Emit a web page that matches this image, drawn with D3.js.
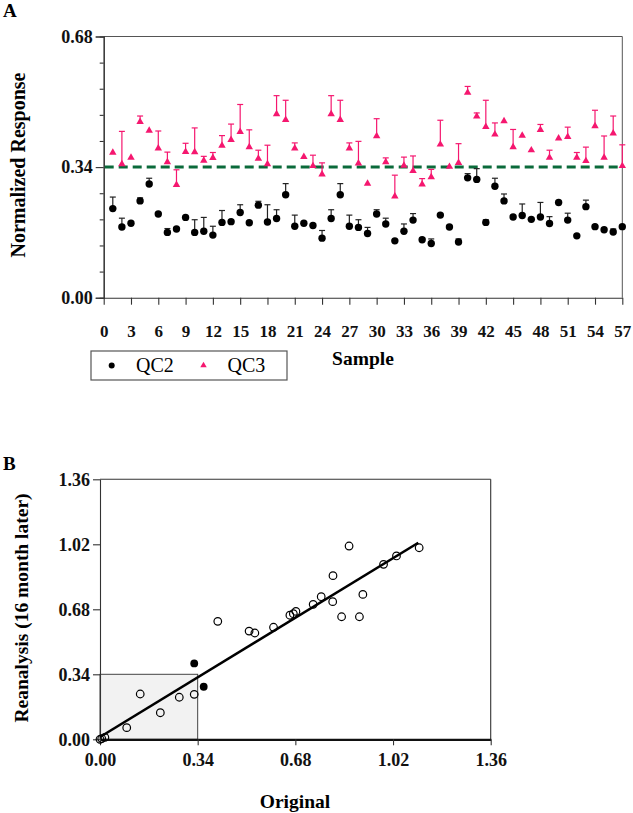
<!DOCTYPE html>
<html><head><meta charset="utf-8">
<script src="https://cdn.jsdelivr.net/npm/d3@7"></script>
<style>
html,body{margin:0;padding:0;background:#fff;}
svg text{font-family:"Liberation Serif","Times New Roman",serif;}
</style></head>
<body>
<svg id="c" width="633" height="813"></svg>
<script>
// ---------- Panel A data ----------
const samples = [1,2,3,4,5,6,7,8,9,10,11,12,13,14,15,16,17,18,19,20,21,22,23,24,25,26,27,28,29,30,31,32,33,34,35,36,37,38,39,40,41,42,43,44,45,46,47,48,49,50,51,52,53,54,55,56,57];
const qc2 = [0.232,0.184,0.194,0.252,0.296,0.218,0.170,0.179,0.209,0.170,0.173,0.163,0.196,0.198,0.222,0.195,0.241,0.197,0.206,0.268,0.186,0.194,0.188,0.155,0.206,0.268,0.186,0.183,0.167,0.218,0.192,0.148,0.173,0.202,0.151,0.141,0.215,0.184,0.145,0.312,0.308,0.196,0.290,0.252,0.210,0.214,0.204,0.210,0.193,0.248,0.202,0.161,0.237,0.185,0.177,0.171,0.185];
const qc2Err = [0.030,0.023,0,0.008,0.015,0,0.010,0,0,0.033,0.036,0.023,0.031,0,0.020,0,0.010,0.045,0.023,0.029,0.029,0,0,0.020,0.023,0.029,0.029,0.020,0.016,0.011,0.015,0,0.019,0.017,0.004,0.012,0,0,0.008,0.011,0.028,0.007,0.021,0.018,0,0.030,0,0.038,0.018,0,0.018,0,0.017,0,0,0.008,0];
const qc3 = [0.378,0.348,0.365,0.458,0.435,0.389,0.353,0.294,0.380,0.379,0.357,0.364,0.396,0.411,0.432,0.392,0.362,0.348,0.478,0.463,0.389,0.367,0.343,0.321,0.478,0.463,0.389,0.350,0.297,0.421,0.353,0.264,0.344,0.330,0.295,0.314,0.399,0.341,0.351,0.534,0.472,0.445,0.425,0.460,0.392,0.422,0.384,0.437,0.365,0.415,0.419,0.365,0.356,0.447,0.365,0.428,0.343];
const qc3Err = [0,0.085,0,0.015,0,0.045,0.026,0.039,0.022,0.063,0.011,0.014,0.026,0.041,0.071,0.045,0.022,0.049,0.048,0.051,0.014,0,0.028,0.030,0.048,0.051,0.014,0.057,0,0.045,0.011,0.055,0.022,0.039,0.015,0.020,0.063,0,0.050,0.016,0.009,0.069,0.030,0,0.046,0,0,0.014,0.019,0,0.025,0.013,0.036,0.041,0.056,0.045,0.055];
const refLine = 0.34;
const xTicksA = [0,3,6,9,12,15,18,21,24,27,30,33,36,39,42,45,48,51,54,57];
const yMajorA = [0, 0.34, 0.68];
const yMinorA = [0.068,0.136,0.204,0.272,0.408,0.476,0.544,0.612];
const seriesNames = ["QC2","QC3"];

// ---------- Panel B data ----------
const originalOpen   = [0.000,0.006,0.017,0.093,0.140,0.210,0.276,0.328,0.410,0.519,0.539,0.604,0.661,0.673,0.682,0.742,0.770,0.811,0.810,0.841,0.867,0.903,0.915,0.987,1.032,1.111];
const reanalysisOpen = [0.000,0.004,0.010,0.061,0.237,0.139,0.220,0.235,0.617,0.566,0.556,0.586,0.649,0.657,0.669,0.706,0.746,0.856,0.720,0.641,1.011,0.641,0.758,0.915,0.959,1.002];
const originalFilled   = [0.328,0.361];
const reanalysisFilled = [0.397,0.275];
const fitIntercept = 0.012, fitSlope = 0.917, fitXmin = 0, fitXmax = 1.108;
const boxLimit = 0.34;
const ticksB = [0, 0.34, 0.68, 1.02, 1.36];

const PINK = "#f5176f", GREEN = "#0a6a3a";
const svg = d3.select("#c");

// ================= Panel A =================
const xA = d3.scaleLinear().domain([0,57]).range([103.7,622.3]);
const yA = d3.scaleLinear().domain([0,0.68]).range([297.7,36.5]);

svg.append("text").text("A").attr("x",3).attr("y",17).attr("font-size",19).attr("font-weight","bold");

// frame
svg.append("line").attr("x1",xA(0)).attr("x2",xA(57)).attr("y1",yA(0.68)).attr("y2",yA(0.68)).attr("stroke","#555").attr("stroke-width",1);
svg.append("line").attr("x1",xA(57)).attr("x2",xA(57)).attr("y1",yA(0.68)).attr("y2",yA(0)).attr("stroke","#555").attr("stroke-width",1);

// y axis minor
const gyMin = svg.append("g").attr("transform",`translate(${xA(0)},0)`)
  .call(d3.axisLeft(yA).tickValues(yMinorA).tickSize(4).tickFormat(""));
const gyMaj = svg.append("g").attr("transform",`translate(${xA(0)},0)`)
  .call(d3.axisLeft(yA).tickValues(yMajorA).tickSize(8).tickPadding(3).tickFormat(d3.format(".2f")));
[gyMin,gyMaj].forEach(g=>{g.selectAll("path,line").attr("stroke","#333").attr("stroke-width",1.1);});
gyMaj.selectAll("text").attr("font-size",18).attr("font-weight","bold").attr("fill","#111").attr("font-family","Liberation Serif");

// x axis
const gxA = svg.append("g").attr("transform",`translate(0,${yA(0)})`)
  .call(d3.axisBottom(xA).tickValues(xTicksA).tickSize(7).tickPadding(20).tickSizeOuter(0));
gxA.selectAll("path,line").attr("stroke","#333").attr("stroke-width",1.1);
gxA.selectAll("text").attr("font-size",17).attr("font-weight","bold").attr("fill","#111").attr("font-family","Liberation Serif");

// reference dashed line
svg.append("line").attr("x1",xA(0)+1).attr("x2",xA(57)).attr("y1",yA(refLine)).attr("y2",yA(refLine))
  .attr("stroke",GREEN).attr("stroke-width",3).attr("stroke-dasharray","9,5");

// error bars helper
function errBars(vals, errs, color){
  const g = svg.append("g").attr("stroke",color).attr("stroke-width",1.2);
  samples.forEach((s,i)=>{
    if(errs[i] <= 0) return;
    const x = xA(s), y0 = yA(vals[i]), y1 = yA(vals[i]+errs[i]);
    g.append("line").attr("x1",x).attr("x2",x).attr("y1",y0).attr("y2",y1);
    g.append("line").attr("x1",x-3).attr("x2",x+3).attr("y1",y1).attr("y2",y1);
  });
}
errBars(qc3, qc3Err, PINK);
errBars(qc2, qc2Err, "#222");

// QC3 triangles
const tri = d3.symbol().type(d3.symbolTriangle).size(24);
svg.append("g").selectAll("path").data(samples).join("path")
  .attr("d",tri).attr("fill",PINK)
  .attr("transform",(s,i)=>`translate(${xA(s)},${yA(qc3[i])})`);
// QC2 circles
svg.append("g").selectAll("circle").data(samples).join("circle")
  .attr("cx",s=>xA(s)).attr("cy",(s,i)=>yA(qc2[i])).attr("r",3.7).attr("fill","#000");

// axis titles
svg.append("text").text("Sample").attr("x",363).attr("y",365).attr("text-anchor","middle")
  .attr("font-size",19.5).attr("font-weight","bold");
svg.append("text").text("Normalized Response").attr("transform","translate(25,165) rotate(-90)")
  .attr("text-anchor","middle").attr("font-size",20).attr("font-weight","bold");

// legend
svg.append("rect").attr("x",91).attr("y",351).attr("width",196).attr("height",29)
  .attr("fill","none").attr("stroke","#555").attr("stroke-width",1.2);
svg.append("circle").attr("cx",111.7).attr("cy",365.5).attr("r",3).attr("fill","#000");
svg.append("text").text(seriesNames[0]).attr("x",136).attr("y",372).attr("font-size",20);
svg.append("path").attr("d",d3.symbol().type(d3.symbolTriangle).size(18)).attr("fill",PINK)
  .attr("transform","translate(203.5,365.5)");
svg.append("text").text(seriesNames[1]).attr("x",227.5).attr("y",372).attr("font-size",20);

// ================= Panel B =================
const xB = d3.scaleLinear().domain([0,1.36]).range([100,490.7]);
const yB = d3.scaleLinear().domain([0,1.36]).range([739.3,479.3]);

svg.append("text").text("B").attr("x",3).attr("y",470).attr("font-size",19).attr("font-weight","bold");

// shaded square
svg.append("rect").attr("x",xB(0)).attr("y",yB(boxLimit)).attr("width",xB(boxLimit)-xB(0)).attr("height",yB(0)-yB(boxLimit))
  .attr("fill","#f2f2f2").attr("stroke","#444").attr("stroke-width",1);

// frame
svg.append("line").attr("x1",xB(0)).attr("x2",xB(1.36)).attr("y1",yB(1.36)).attr("y2",yB(1.36)).attr("stroke","#333").attr("stroke-width",1.1);
svg.append("line").attr("x1",xB(1.36)).attr("x2",xB(1.36)).attr("y1",yB(1.36)).attr("y2",yB(0)).attr("stroke","#333").attr("stroke-width",1.1);

const gyB = svg.append("g").attr("transform",`translate(${xB(0)},0)`)
  .call(d3.axisLeft(yB).tickValues(ticksB).tickSize(7).tickPadding(3).tickFormat(d3.format(".2f")).tickSizeOuter(0));
gyB.selectAll("path,line").attr("stroke","#333").attr("stroke-width",1.1);
gyB.selectAll("text").attr("font-size",18).attr("font-weight","bold").attr("fill","#111").attr("font-family","Liberation Serif");

const gxB = svg.append("g").attr("transform",`translate(0,${yB(0)})`)
  .call(d3.axisBottom(xB).tickValues(ticksB).tickSize(6).tickPadding(8).tickFormat(d3.format(".2f")).tickSizeOuter(0));
gxB.selectAll("line").attr("stroke","#333").attr("stroke-width",1.1);
gxB.select("path").attr("stroke","#111").attr("stroke-width",2.2);
gxB.selectAll("text").attr("font-size",18).attr("font-weight","bold").attr("fill","#111").attr("font-family","Liberation Serif");

// regression line
const fitPts = [fitXmin, fitXmax].map(x=>[x, fitIntercept + fitSlope*x]);
svg.append("path").datum(fitPts)
  .attr("d",d3.line().x(d=>xB(d[0])).y(d=>yB(d[1])))
  .attr("stroke","#000").attr("stroke-width",2.6).attr("fill","none");

// points
svg.append("g").selectAll("circle").data(originalOpen).join("circle")
  .attr("cx",d=>xB(d)).attr("cy",(d,i)=>yB(reanalysisOpen[i])).attr("r",3.8)
  .attr("fill","none").attr("stroke","#000").attr("stroke-width",1.2);
svg.append("g").selectAll("circle").data(originalFilled).join("circle")
  .attr("cx",d=>xB(d)).attr("cy",(d,i)=>yB(reanalysisFilled[i])).attr("r",3.9)
  .attr("fill","#000");

svg.append("text").text("Original").attr("x",295).attr("y",808).attr("text-anchor","middle")
  .attr("font-size",19.5).attr("font-weight","bold");
svg.append("text").text("Reanalysis (16 month later)").attr("transform","translate(28,608) rotate(-90)")
  .attr("text-anchor","middle").attr("font-size",19.5).attr("font-weight","bold");
</script>
</body></html>
